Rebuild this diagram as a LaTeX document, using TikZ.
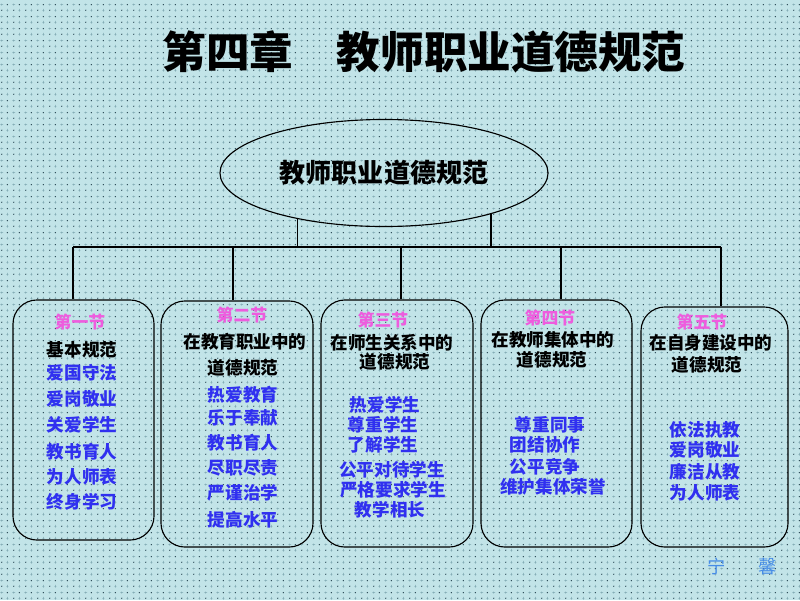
\documentclass[tikz,border=0pt]{standalone}
\usepackage{fontspec}
\setmainfont{Noto Sans CJK SC}
\usetikzlibrary{shapes.geometric,patterns}

\definecolor{bgcol}{RGB}{194,228,232}
\definecolor{dotcol}{RGB}{35,65,78}
\definecolor{crosscol}{RGB}{120,162,172}
\definecolor{secpink}{RGB}{238,92,222}
\definecolor{itemblue}{RGB}{48,48,240}
\definecolor{signblue}{RGB}{70,140,230}

% background dots, 12px tile
\pgfdeclarepatternformonly{bgdots}{\pgfqpoint{0pt}{0pt}}{\pgfqpoint{8.535pt}{8.535pt}}{\pgfqpoint{8.535pt}{8.535pt}}{
  \pgfpathcircle{\pgfqpoint{2.13pt}{2.13pt}}{0.55pt}
  \pgfpathcircle{\pgfqpoint{6.4pt}{6.4pt}}{0.55pt}
  \pgfusepath{fill}}
\pgfdeclarepatternformonly{bgcross}{\pgfqpoint{0pt}{0pt}}{\pgfqpoint{8.535pt}{8.535pt}}{\pgfqpoint{8.535pt}{8.535pt}}{
  \pgfsetlinewidth{0.35pt}
  \pgfpathmoveto{\pgfqpoint{5.4pt}{2.13pt}}\pgfpathlineto{\pgfqpoint{7.4pt}{2.13pt}}
  \pgfpathmoveto{\pgfqpoint{6.4pt}{1.13pt}}\pgfpathlineto{\pgfqpoint{6.4pt}{3.13pt}}
  \pgfpathmoveto{\pgfqpoint{1.13pt}{6.4pt}}\pgfpathlineto{\pgfqpoint{3.13pt}{6.4pt}}
  \pgfpathmoveto{\pgfqpoint{2.13pt}{5.4pt}}\pgfpathlineto{\pgfqpoint{2.13pt}{7.4pt}}
  \pgfusepath{stroke}}

\begin{document}
\begin{tikzpicture}
      [x=0.025cm,y=-0.025cm,line width=0.8pt,
       root node/.style={ellipse,draw,inner sep=0pt,minimum width=8.2cm,minimum height=2.675cm,
         font=\fontsize{18.5}{22}\selectfont\bfseries},
       sec box/.style={draw,rounded corners=0.6cm,inner sep=0pt},
       sec title/.style={inner sep=0pt,text=secpink,font=\fontsize{12}{14}\selectfont\bfseries},
       head text/.style={inner sep=0pt,font=\fontsize{12.5}{15}\selectfont\bfseries},
       item text/.style={inner sep=0pt,text=itemblue,font=\fontsize{12.5}{15}\selectfont\bfseries}]
        \fill[bgcol] (0,0) rectangle (800,600);
        \fill[pattern=bgcross,pattern color=crosscol] (0,0) rectangle (800,600);
        \fill[pattern=bgdots,pattern color=dotcol] (0,0) rectangle (800,600);
        \useasboundingbox (0,0) rectangle (800,600);

        \node[inner sep=0pt,font=\fontsize{31}{36}\selectfont\bfseries] (title) at (424,52) {第四章　教师职业道德规范};

        \node[root node] (root) at (384,173) {教师职业道德规范};

        \node[sec box,minimum width=3.525cm,minimum height=6cm] (b1) at (83.5,420) {};
        \node[sec box,minimum width=3.8cm,minimum height=6.15cm] (b2) at (237,424) {};
        \node[sec box,minimum width=3.8cm,minimum height=6.175cm] (b3) at (397,423.5) {};
        \node[sec box,minimum width=3.775cm,minimum height=6.175cm] (b4) at (556.5,423.5) {};
        \node[sec box,minimum width=3.675cm,minimum height=6cm] (b5) at (714.5,427) {};

        % bus
        \coordinate (bus) at (384,247);
        \coordinate (d1) at (73,247);
        \coordinate (d2) at (233,247);
        \coordinate (d3) at (401,247);
        \coordinate (d4) at (561,247);
        \coordinate (d5) at (721,247);

        \draw (root.208.7) -- (root.208.7 |- bus);
        \draw (root.339.8) -- (root.339.8 |- bus);
        \draw (d1) -- (d5);
        \draw (d1) -- (d1 |- b1.north);
        \draw (d2) -- (d2 |- b2.north);
        \draw (d3) -- (d3 |- b3.north);
        \draw (d4) -- (d4 |- b4.north);
        \draw (d5) -- (d5 |- b5.north);

        % first section
        \node[sec title] (s1) at (80,322) {第一节};
        \node[head text] (h1) at (82,350) {基本规范};
        \node[item text] (i11) at (82,373) {爱国守法};
        \node[item text] (i12) at (82,399) {爱岗敬业};
        \node[item text] (i13) at (82,425) {关爱学生};
        \node[item text] (i14) at (82,452) {教书育人};
        \node[item text] (i15) at (82,477) {为人师表};
        \node[item text] (i16) at (82,502) {终身学习};

        % second section
        \node[sec title] (s2) at (242,315) {第二节};
        \node[head text] (h2) at (245,342) {在教育职业中的};
        \node[head text] (h2b) at (243,368) {道德规范};
        \node[item text] (i21) at (243,395) {热爱教育};
        \node[item text] (i22) at (243,418) {乐于奉献};
        \node[item text] (i23) at (243,443) {教书育人};
        \node[item text] (i24) at (243,468) {尽职尽责};
        \node[item text] (i25) at (243,493) {严谨治学};
        \node[item text] (i26) at (243,520) {提高水平};

        % third section
        \node[sec title] (s3) at (383,320) {第三节};
        \node[head text] (h3) at (392,343) {在师生关系中的};
        \node[head text] (h3b) at (395,362) {道德规范};
        \node[item text] (i31) at (385,405) {热爱学生};
        \node[item text] (i32) at (383,425) {尊重学生};
        \node[item text] (i33) at (383,445) {了解学生};
        \node[item text] (i34) at (392,470) {公平对待学生};
        \node[item text] (i35) at (393,490) {严格要求学生};
        \node[item text] (i36) at (390,510) {教学相长};

        % fourth section
        \node[sec title] (s4) at (550,318) {第四节};
        \node[head text] (h4) at (553,340) {在教师集体中的};
        \node[head text] (h4b) at (552,360) {道德规范};
        \node[item text] (i41) at (550,425) {尊重同事};
        \node[item text] (i42) at (545,445) {团结协作};
        \node[item text] (i43) at (545,467) {公平竞争};
        \node[item text] (i44) at (553,487) {维护集体荣誉};

        % fifth section
        \node[sec title] (s5) at (702,322) {第五节};
        \node[head text] (h5) at (711,343) {在自身建设中的};
        \node[head text] (h5b) at (707,365) {道德规范};
        \node[item text] (i51) at (705,430) {依法执教};
        \node[item text] (i52) at (705,450) {爱岗敬业};
        \node[item text] (i53) at (705,472) {廉洁从教};
        \node[item text] (i54) at (705,493) {为人师表};

        \node[inner sep=0pt,text=signblue,font=\fontsize{13}{15}\selectfont] (sign) at (742,567) {宁\hspace{0.8cm}馨};

      \end{tikzpicture}
\end{document}
